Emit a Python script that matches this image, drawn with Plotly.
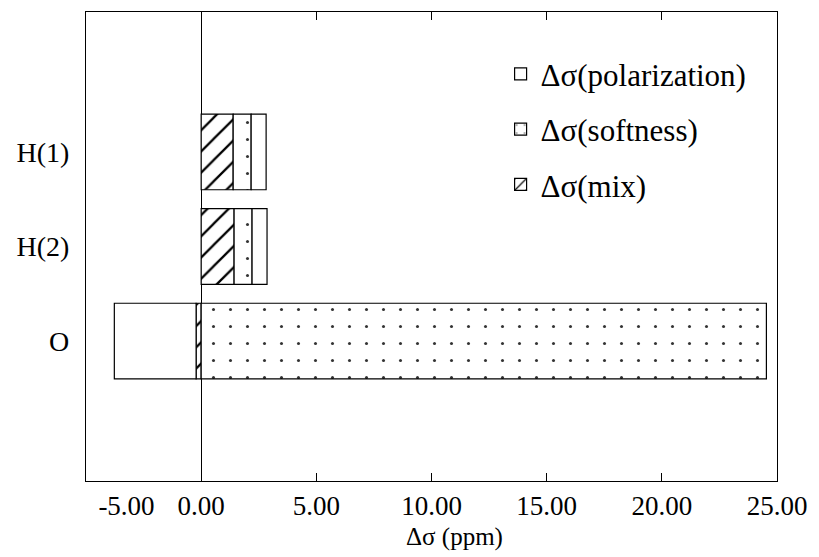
import plotly.graph_objects as go

categories = ["O", "H(2)", "H(1)"]
mix = [-0.22, 1.43, 1.39]
softness = [24.54, 0.78, 0.78]
polarization = [-3.55, 0.65, 0.65]
x_ticks = [-5, 0, 5, 10, 15, 20, 25]
x_tick_labels = ["\u00a0" * 12 + "-5.00", "0.00", "5.00", "10.00", "15.00", "20.00", "25.00"]
x_title = "Δσ (ppm)"

FONT = "Liberation Serif, Times New Roman, serif"

fig = go.Figure()
fig.add_trace(go.Bar(
    y=categories, x=mix, orientation="h", name="Δσ(mix)", legendgroup="mix", legendrank=3,
    marker=dict(color="white", line=dict(color="black", width=1.2),
                pattern=dict(shape="/", fgcolor="black", bgcolor="white", fgopacity=1,
                             size=15, solidity=0.15)),
    width=0.8,
))
fig.add_trace(go.Bar(
    y=categories, x=softness, orientation="h", name="Δσ(softness)", legendgroup="soft", legendrank=2,
    marker=dict(color="white", line=dict(color="black", width=1.2),
                pattern=dict(shape=".", fgcolor="black", bgcolor="white", fgopacity=0.8,
                             size=17, solidity=0.025)),
    width=0.8,
))
fig.add_trace(go.Bar(
    y=categories, x=polarization, orientation="h", name="Δσ(polarization)", legendgroup="pol", legendrank=1,
    marker=dict(color="white", line=dict(color="black", width=1.2)),
    width=0.8,
))

fig.update_layout(
    barmode="relative",
    width=819, height=557,
    margin=dict(l=86, r=42, t=12, b=76),
    paper_bgcolor="white", plot_bgcolor="white",
    font=dict(family=FONT, size=26, color="black"),
    showlegend=True,
    legend=dict(
        x=0.6, xanchor="left", y=0.925, yanchor="top",
        traceorder="grouped", tracegroupgap=12,
        font=dict(family=FONT, size=31, color="black"),
        bgcolor="rgba(0,0,0,0)",
    ),
    xaxis=dict(
        range=[-5, 25], tickvals=x_ticks, ticktext=x_tick_labels,
        ticks="inside", ticklen=8, tickcolor="black", mirror="ticks",
        showline=True, linecolor="black", linewidth=1.2,
        showgrid=False, zeroline=True, zerolinecolor="black", zerolinewidth=1,
        tickfont=dict(family=FONT, size=27),
    ),
    yaxis=dict(
        type="category", categoryorder="array", categoryarray=categories,
        range=[-1.48, 3.48], ticks="", showline=True, linecolor="black", linewidth=1.2,
        mirror=True, showgrid=False,
        tickfont=dict(family=FONT, size=28), ticklabelstandoff=10,
    ),
    annotations=[dict(
        text=x_title, xref="paper", yref="paper", x=0.533, y=-0.119,
        xanchor="center", yanchor="middle", showarrow=False,
        font=dict(family=FONT, size=25, color="black"),
    )],
)

fig.write_html("out.html")
